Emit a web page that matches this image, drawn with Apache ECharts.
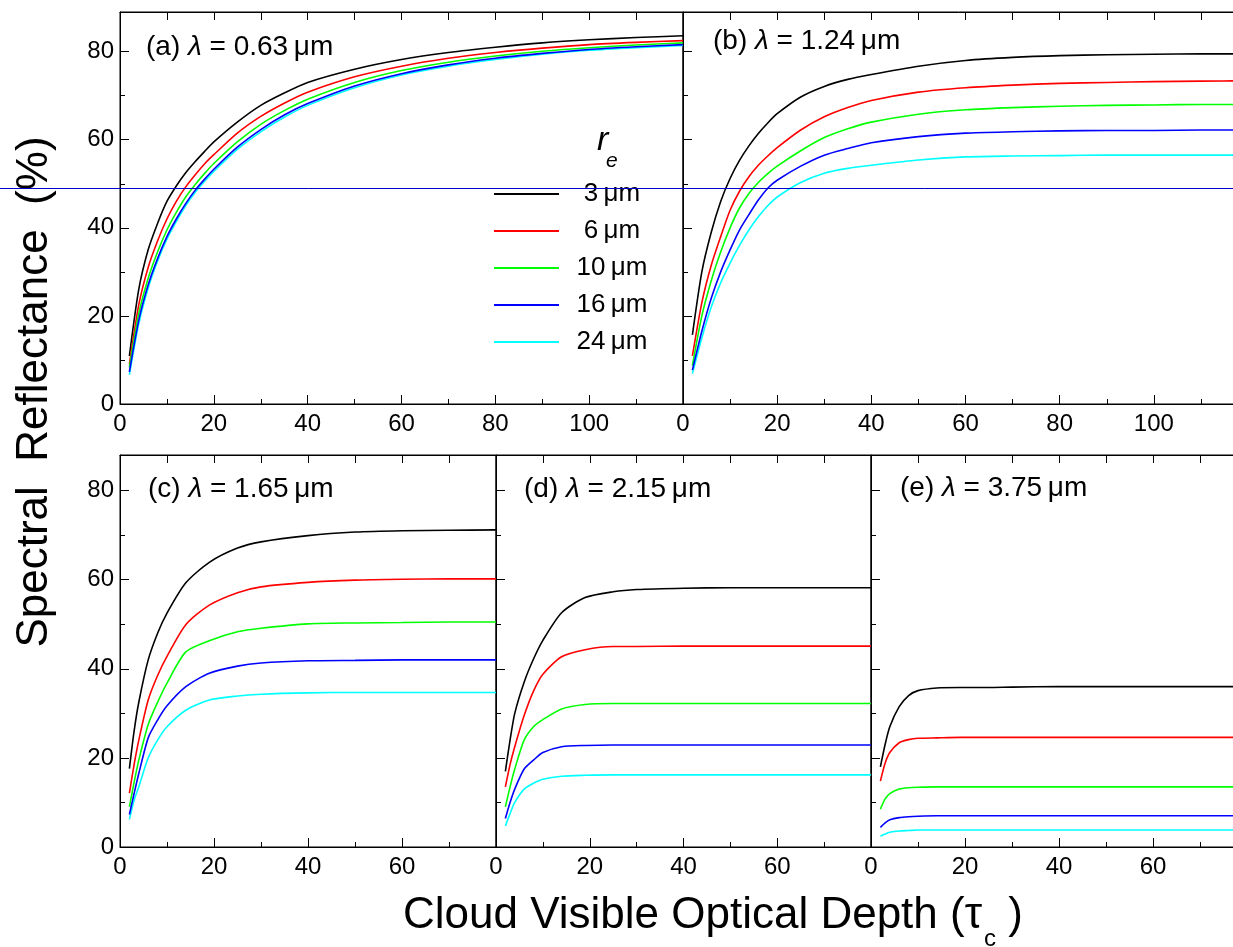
<!DOCTYPE html>
<html>
<head>
<meta charset="utf-8">
<title>Spectral Reflectance</title>
<script src="https://cdn.jsdelivr.net/npm/echarts@6.0.0/dist/echarts.min.js"></script>
<style>
html, body { margin: 0; padding: 0; background: #fff; }
#chart { width: 1233px; height: 947px; }
</style>
</head>
<body>
<div id="chart"></div>
<script>
// cloud optical depth samples
const tauTop = [2, 4, 6, 8, 10, 12, 14, 16, 18, 20, 25, 30, 35, 40, 50, 60, 70, 80, 90, 100, 110, 120];
const tauBottom = [2, 3, 4, 6, 8, 10, 14, 19, 25, 30, 40, 50, 60, 70, 80];

const radii = ['3 μm', '6 μm', '10 μm', '16 μm', '24 μm'];
const lineColors = ['#000000', '#ff0000', '#00ff00', '#0000ff', '#00ffff'];

// (a) 0.63 um
const reflA = [
    [10.9, 26, 35, 41, 46, 49.5, 52.5, 55, 57.3, 59.5, 64, 67.8, 70.6, 73, 76, 78.2, 79.8, 81, 82, 82.7, 83.2, 83.6],
    [9, 22.5, 31, 37, 42, 46, 49.3, 52, 54.5, 56.6, 61.5, 65.3, 68.3, 70.8, 74.3, 76.7, 78.5, 79.8, 80.8, 81.6, 82.1, 82.5],
    [8.3, 20.5, 28.5, 34.5, 39.5, 43.5, 47, 49.8, 52.3, 54.6, 59.5, 63.5, 66.6, 69.2, 73, 75.7, 77.6, 79, 80.1, 80.9, 81.5, 82],
    [7.3, 19, 27, 33, 38, 42, 45.5, 48.5, 51, 53.3, 58.3, 62.3, 65.6, 68.2, 72.2, 75, 77, 78.5, 79.6, 80.5, 81.1, 81.6],
    [6.6, 18.2, 26.3, 32.4, 37.4, 41.4, 45, 48, 50.5, 52.8, 57.8, 61.8, 65.1, 67.8, 71.8, 74.7, 76.7, 78.2, 79.4, 80.3, 80.9, 81.4]
];
// (b) 1.24 um
const reflB = [
    [15.7, 30, 39, 46, 51.2, 55.3, 58.6, 61.4, 63.8, 65.9, 69.7, 72.1, 73.7, 74.8, 76.7, 78, 78.7, 79.1, 79.3, 79.4, 79.5, 79.5],
    [10.9, 23, 31.5, 38, 44, 48.3, 51.6, 54.2, 56.3, 58.2, 62.2, 65.2, 67.3, 68.9, 70.8, 71.8, 72.4, 72.8, 73, 73.2, 73.3, 73.4],
    [8.7, 20, 28, 34.5, 40, 44.5, 47.8, 50.3, 52.3, 54, 57.5, 60.5, 62.5, 64, 65.8, 66.8, 67.3, 67.6, 67.8, 67.9, 68, 68],
    [7.7, 16.5, 24, 30, 35, 39.5, 43, 46.3, 49, 50.8, 54, 56.5, 58, 59.3, 60.7, 61.5, 61.8, 62, 62.1, 62.1, 62.2, 62.2],
    [6.9, 15, 22, 27.5, 32, 36, 39.5, 42.5, 45, 47, 50.3, 52.4, 53.5, 54.2, 55.4, 56.1, 56.3, 56.4, 56.5, 56.5, 56.5, 56.5]
];
// (c) 1.65 um
const reflC = [
    [17.6, 26, 32.5, 42, 48, 52.5, 59.3, 63.9, 67.1, 68.5, 69.9, 70.7, 71, 71.1, 71.2],
    [12.1, 18.5, 24, 33, 38.5, 42.8, 49.9, 54.3, 57.1, 58.4, 59.4, 59.9, 60.1, 60.2, 60.2],
    [9, 14.5, 19.5, 27.5, 32.5, 36.8, 43.8, 46.3, 48.3, 49.1, 50.1, 50.3, 50.4, 50.5, 50.5],
    [7.3, 12, 16.5, 24.5, 28.5, 31.7, 36, 39, 40.6, 41.3, 41.8, 41.9, 42, 42, 42],
    [6.2, 10.5, 13.5, 20, 24, 27, 30.7, 33, 33.9, 34.3, 34.6, 34.7, 34.7, 34.7, 34.7]
];
// (d) 2.15 um
const reflD = [
    [17, 24, 30, 37, 42.2, 46.4, 52.6, 56, 57.3, 57.8, 58.1, 58.2, 58.2, 58.2, 58.2],
    [13.5, 18.5, 22.5, 29.5, 35, 38.8, 42.7, 44.3, 45, 45, 45.1, 45.1, 45.1, 45.1, 45.1],
    [9, 13.5, 17.5, 24, 27, 28.6, 31, 32, 32.2, 32.2, 32.2, 32.2, 32.2, 32.2, 32.2],
    [6.4, 10, 13, 17.5, 19.5, 21.2, 22.5, 22.8, 22.9, 22.9, 22.9, 22.9, 22.9, 22.9, 22.9],
    [4.7, 7.5, 10, 13, 14.3, 15.2, 15.9, 16.1, 16.2, 16.2, 16.2, 16.2, 16.2, 16.2, 16.2]
];
// (e) 3.75 um
const reflE = [
    [18, 23, 27, 31.5, 34, 35.1, 35.7, 35.8, 35.8, 35.9, 36, 36, 36, 36, 36],
    [14.8, 18.8, 21.2, 23.4, 24.1, 24.4, 24.5, 24.6, 24.6, 24.6, 24.6, 24.6, 24.6, 24.6, 24.6],
    [8.5, 10.8, 12, 13, 13.3, 13.4, 13.5, 13.5, 13.5, 13.5, 13.5, 13.5, 13.5, 13.5, 13.5],
    [4.4, 5.4, 6.1, 6.6, 6.8, 6.9, 7, 7, 7, 7, 7, 7, 7, 7, 7],
    [2.4, 2.9, 3.3, 3.6, 3.7, 3.8, 3.8, 3.8, 3.8, 3.8, 3.8, 3.8, 3.8, 3.8, 3.8]
];

const panelTitles = [
    '(a) {l|λ} = 0.63\u2009μm',
    '(b) {l|λ} = 1.24\u2009μm',
    '(c) {l|λ} = 1.65\u2009μm',
    '(d) {l|λ} = 2.15\u2009μm',
    '(e) {l|λ} = 3.75\u2009μm'
];

const FONT = "'Liberation Sans', Arial, sans-serif";

// layout of the five frames (b and e run past the right edge, as in the scan)
const panels = [
    { refl: reflA, tau: tauTop, left: 120, top: 12, width: 563, height: 392, xMax: 120, yMax: 89, yLabels: true, tLeft: 146, tTop: 33 },
    { refl: reflB, tau: tauTop, left: 683, top: 12, width: 565, height: 392, xMax: 120, yMax: 89, yLabels: false, tLeft: 713, tTop: 27 },
    { refl: reflC, tau: tauBottom, left: 120, top: 455, width: 376, height: 392, xMax: 80, yMax: 88, yLabels: true, tLeft: 148, tTop: 475 },
    { refl: reflD, tau: tauBottom, left: 496, top: 455, width: 375, height: 392, xMax: 80, yMax: 88, yLabels: false, tLeft: 524, tTop: 475 },
    { refl: reflE, tau: tauBottom, left: 871, top: 455, width: 376, height: 392, xMax: 80, yMax: 88, yLabels: false, tLeft: 900, tTop: 474 }
];

let grid = [], xAxis = [], yAxis = [], series = [], title = [];
const black = { color: '#000', width: 1 };

panels.forEach((p, i) => {
    grid.push({
        left: p.left, top: p.top, width: p.width, height: p.height,
        show: true, borderColor: '#000', borderWidth: 1, backgroundColor: 'transparent',
        containLabel: false, outerBoundsMode: 'none'
    });
    // bottom axis: labels, long ticks every 20, short every 10
    xAxis.push({
        gridIndex: i, type: 'value', position: 'bottom', min: 0, max: p.xMax, interval: 20,
        axisLine: { show: true, onZero: false, lineStyle: black },
        axisTick: { show: true, inside: true, length: 9, lineStyle: black },
        minorTick: { show: true, splitNumber: 2, length: 5, lineStyle: black },
        splitLine: { show: false }, minorSplitLine: { show: false },
        axisLabel: { show: true, fontSize: 24, color: '#000', fontFamily: FONT, margin: 8, showMinLabel: true, showMaxLabel: false }
    });
    // top axis: ticks only
    xAxis.push({
        gridIndex: i, type: 'value', position: 'top', min: 0, max: p.xMax, interval: 10,
        axisLine: { show: true, onZero: false, lineStyle: black },
        axisTick: { show: true, inside: true, length: 8, lineStyle: black },
        splitLine: { show: false }, axisLabel: { show: false }
    });
    yAxis.push({
        gridIndex: i, type: 'value', position: 'left', min: 0, max: p.yMax, interval: 20,
        axisLine: { show: true, onZero: false, lineStyle: black },
        axisTick: { show: true, inside: true, length: 9, lineStyle: black },
        splitLine: { show: false },
        axisLabel: { show: p.yLabels, fontSize: 24, color: '#000', fontFamily: FONT, margin: 6, showMinLabel: true, showMaxLabel: false }
    });
    // short ticks every 10, moved onto the left edge
    yAxis.push({
        gridIndex: i, type: 'value', position: 'right', offset: -p.width, min: 0, max: p.yMax, interval: 10,
        axisLine: { show: false, onZero: false },
        axisTick: { show: true, inside: false, length: 5, lineStyle: black },
        splitLine: { show: false }, axisLabel: { show: false }
    });
    title.push({
        text: panelTitles[i], left: p.tLeft, top: p.tTop, padding: 0,
        textStyle: {
            fontSize: 28, fontWeight: 'normal', color: '#000', fontFamily: FONT, lineHeight: 28,
            rich: { l: { fontSize: 28, fontStyle: 'italic', color: '#000', fontFamily: FONT, lineHeight: 28 } }
        }
    });
    radii.forEach((name, k) => {
        series.push({
            type: 'line', name: name, xAxisIndex: 2 * i, yAxisIndex: 2 * i,
            data: p.tau.map((t, j) => [t, p.refl[k][j]]),
            showSymbol: false, symbol: 'none', smooth: 0.25, clip: true,
            color: lineColors[k],
            itemStyle: { color: lineColors[k] },
            lineStyle: { width: 1.6, color: lineColors[k] },
            z: k === 4 ? 2 : 3
        });
    });
});

const chart = echarts.init(document.getElementById('chart'), null, { renderer: 'canvas' });
chart.setOption({
    backgroundColor: '#fff',
    animation: false,
    textStyle: { fontFamily: FONT },
    title: title,
    grid: grid,
    xAxis: xAxis,
    yAxis: yAxis,
    legend: {
        show: true, orient: 'vertical', left: 494, top: 181, padding: 0,
        itemWidth: 65, itemHeight: 2, itemGap: 11, icon: 'rect',
        selectedMode: false, data: radii,
        formatter: name => '{t|' + name.replace(' ', '\u2009') + '}',
        textStyle: {
            color: '#000', fontSize: 26, fontFamily: FONT,
            rich: { t: { width: 96, align: 'center', fontSize: 26, lineHeight: 28, color: '#000', fontFamily: FONT } }
        }
    },
    graphic: [
        {
            type: 'text', silent: true, x: 35, y: 392, rotation: Math.PI / 2,
            style: { text: 'Spectral  Reflectance  (%)', fontSize: 44, fontFamily: FONT, fill: '#000', align: 'center', verticalAlign: 'middle' }
        },
        {
            type: 'text', silent: true, x: 403, y: 916,
            style: {
                text: 'Cloud Visible Optical Depth ({g|τ}{s|c} )', fontSize: 44, fontFamily: FONT, fill: '#000',
                align: 'left', verticalAlign: 'middle',
                rich: {
                    g: { fontSize: 44, fontFamily: FONT, fill: '#000' },
                    s: { fontSize: 24, fontFamily: FONT, fill: '#000', lineHeight: 24, padding: [46, 0, 0, 2] }
                }
            }
        },
        {
            type: 'text', silent: true, x: 597, y: 141,
            style: { text: 'r', fontSize: 34, fontStyle: 'italic', fontFamily: FONT, fill: '#000', align: 'left', verticalAlign: 'middle' }
        },
        {
            type: 'text', silent: true, x: 606, y: 161,
            style: { text: 'e', fontSize: 21, fontStyle: 'italic', fontFamily: FONT, fill: '#000', align: 'left', verticalAlign: 'middle' }
        },
        {
            type: 'line', silent: true, z: 100,
            shape: { x1: 0, y1: 188.5, x2: 1233, y2: 188.5 },
            style: { stroke: '#0000cc', lineWidth: 1 }
        }
    ],
    series: series
});
</script>
</body>
</html>
